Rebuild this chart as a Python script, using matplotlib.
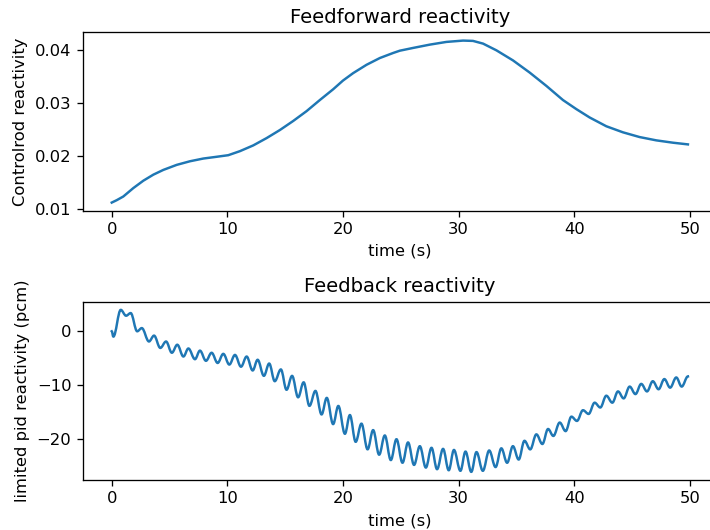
import matplotlib
matplotlib.use("Agg")
import matplotlib.pyplot as plt
from matplotlib.path import Path
from matplotlib.patches import PathPatch

# Feedforward reactivity (top)
t_ff = [0.0, 0.43, 1.0, 1.87, 2.73, 3.6, 4.46, 5.62, 6.77, 7.92, 9.07, 10.08, 11.09,
        12.24, 13.4, 14.55, 15.7, 16.85, 18.0, 19.15, 20.0, 20.88, 22.04, 23.19, 24.34,
        24.92, 26.07, 27.51, 28.95, 30.39, 31.25, 32.12, 33.28, 34.71, 36.15, 37.6,
        39.03, 40.19, 41.34, 42.78, 44.22, 45.66, 47.1, 48.54, 49.84]
rho_ff = [0.01125, 0.0117, 0.01239, 0.01398, 0.01536, 0.0165, 0.01739, 0.01834, 0.01902,
          0.01953, 0.01986, 0.02016, 0.02092, 0.0220, 0.02338, 0.0249, 0.0266, 0.02844,
          0.03053, 0.03255, 0.03419, 0.03559, 0.03716, 0.03843, 0.03938, 0.03981, 0.04033,
          0.04095, 0.04146, 0.04171, 0.04165, 0.04114, 0.03987, 0.03798, 0.0357, 0.03318,
          0.03053, 0.02882, 0.02725, 0.0256, 0.02446, 0.02357, 0.02295, 0.02251, 0.02219]

# Feedback reactivity (bottom): successive extrema of the oscillation
t_fb = [0.0, 0.14, 0.78, 1.24, 1.64, 2.2, 2.6, 3.22, 3.66, 4.2, 4.7, 5.2, 5.67, 6.2, 6.63,
        7.2, 7.63, 8.15, 8.64, 9.16, 9.65, 10.17, 10.66, 11.18, 11.67, 12.19, 12.62, 13.16,
        13.62, 14.1, 14.63, 15.12, 15.6, 16.12, 16.6, 17.1, 17.62, 18.15, 18.6, 19.15, 19.6,
        20.17, 20.6, 21.1, 21.6, 22.13, 22.61, 23.13, 23.62, 24.14, 24.63, 25.15, 25.63,
        26.15, 26.65, 27.17, 27.66, 28.14, 28.66, 29.15, 29.6, 30.16, 30.6, 31.1, 31.55,
        32.1, 32.65, 33.2, 33.7, 34.2, 34.7, 35.2, 35.7, 36.2, 36.73, 37.25, 37.74, 38.2,
        38.75, 39.26, 39.76, 40.24, 40.76, 41.25, 41.77, 42.26, 42.78, 43.3, 43.79, 44.28,
        44.8, 45.3, 45.8, 46.3, 46.8, 47.3, 47.8, 48.3, 48.83, 49.3, 49.84]
rho_fb = [0.0, -1.0, 4.0, 2.9, 3.4, 0.0, 0.6, -1.9, -0.8, -3.1, -1.9, -4.0, -2.5, -4.7, -3.2,
          -5.2, -3.6, -5.5, -4.0, -5.9, -4.2, -6.2, -4.4, -6.6, -4.7, -7.3, -5.3, -8.3,
          -6.0, -9.3, -7.1, -10.9, -8.3, -12.3, -9.5, -13.9, -11.1, -15.5, -12.4, -17.3, -13.9,
          -19.1, -15.6, -20.6, -17.2, -22.0, -18.4, -23.0, -19.4, -24.0, -20.1, -24.5, -20.7,
          -24.9, -21.4, -25.4, -21.7, -25.7, -21.9, -25.9, -22.1, -26.0, -22.4, -26.2, -22.5,
          -26.0, -22.2, -25.3, -21.8, -24.5, -21.4, -23.9, -20.4, -22.0, -19.2, -21.0, -18.2,
          -19.5, -17.0, -18.6, -15.9, -16.7, -14.7, -15.4, -13.3, -14.2, -12.0, -13.3, -11.2,
          -12.5, -10.3, -11.7, -9.8, -11.2, -9.3, -10.8, -8.9, -10.5, -8.6, -10.3, -8.4]

DPI = 118
fig = plt.figure(figsize=(710 / DPI, 530 / DPI), dpi=DPI)
ax1 = fig.add_axes([0.1168, 0.6025, 0.8927, 0.3362])
ax2 = fig.add_axes([0.1168, 0.0943, 0.8927, 0.3364])

ax1.plot(t_ff, rho_ff, color="#1f77b4", lw=1.5)
ax1.set_title("Feedforward reactivity")
ax1.set_xlabel("time (s)")
ax1.set_ylabel("Controlrod reactivity")
ax1.set_yticks([0.01, 0.02, 0.03, 0.04])

# smooth rendering through the extrema (horizontal tangents at each extremum)
k = 0.364
verts = [(t_fb[0], rho_fb[0])]
codes = [Path.MOVETO]
for i in range(1, len(t_fb)):
    x0, y0 = t_fb[i - 1], rho_fb[i - 1]
    x1, y1 = t_fb[i], rho_fb[i]
    dx = x1 - x0
    verts += [(x0 + k * dx, y0), (x1 - k * dx, y1), (x1, y1)]
    codes += [Path.CURVE4, Path.CURVE4, Path.CURVE4]
patch = PathPatch(Path(verts, codes), fill=False, edgecolor="#1f77b4", lw=1.5,
                  joinstyle="round", capstyle="projecting")
ax2.add_patch(patch)
ax2.update_datalim(list(zip(t_fb, rho_fb)))
ax2.autoscale_view()
ax2.set_title("Feedback reactivity")
ax2.set_xlabel("time (s)")
ax2.set_ylabel("limited pid reactivity (pcm)")
ax2.set_yticks([0, -10, -20])

for ax in (ax1, ax2):
    ax.set_xticks([0, 10, 20, 30, 40, 50])

fig.savefig("out.png", dpi=DPI)
